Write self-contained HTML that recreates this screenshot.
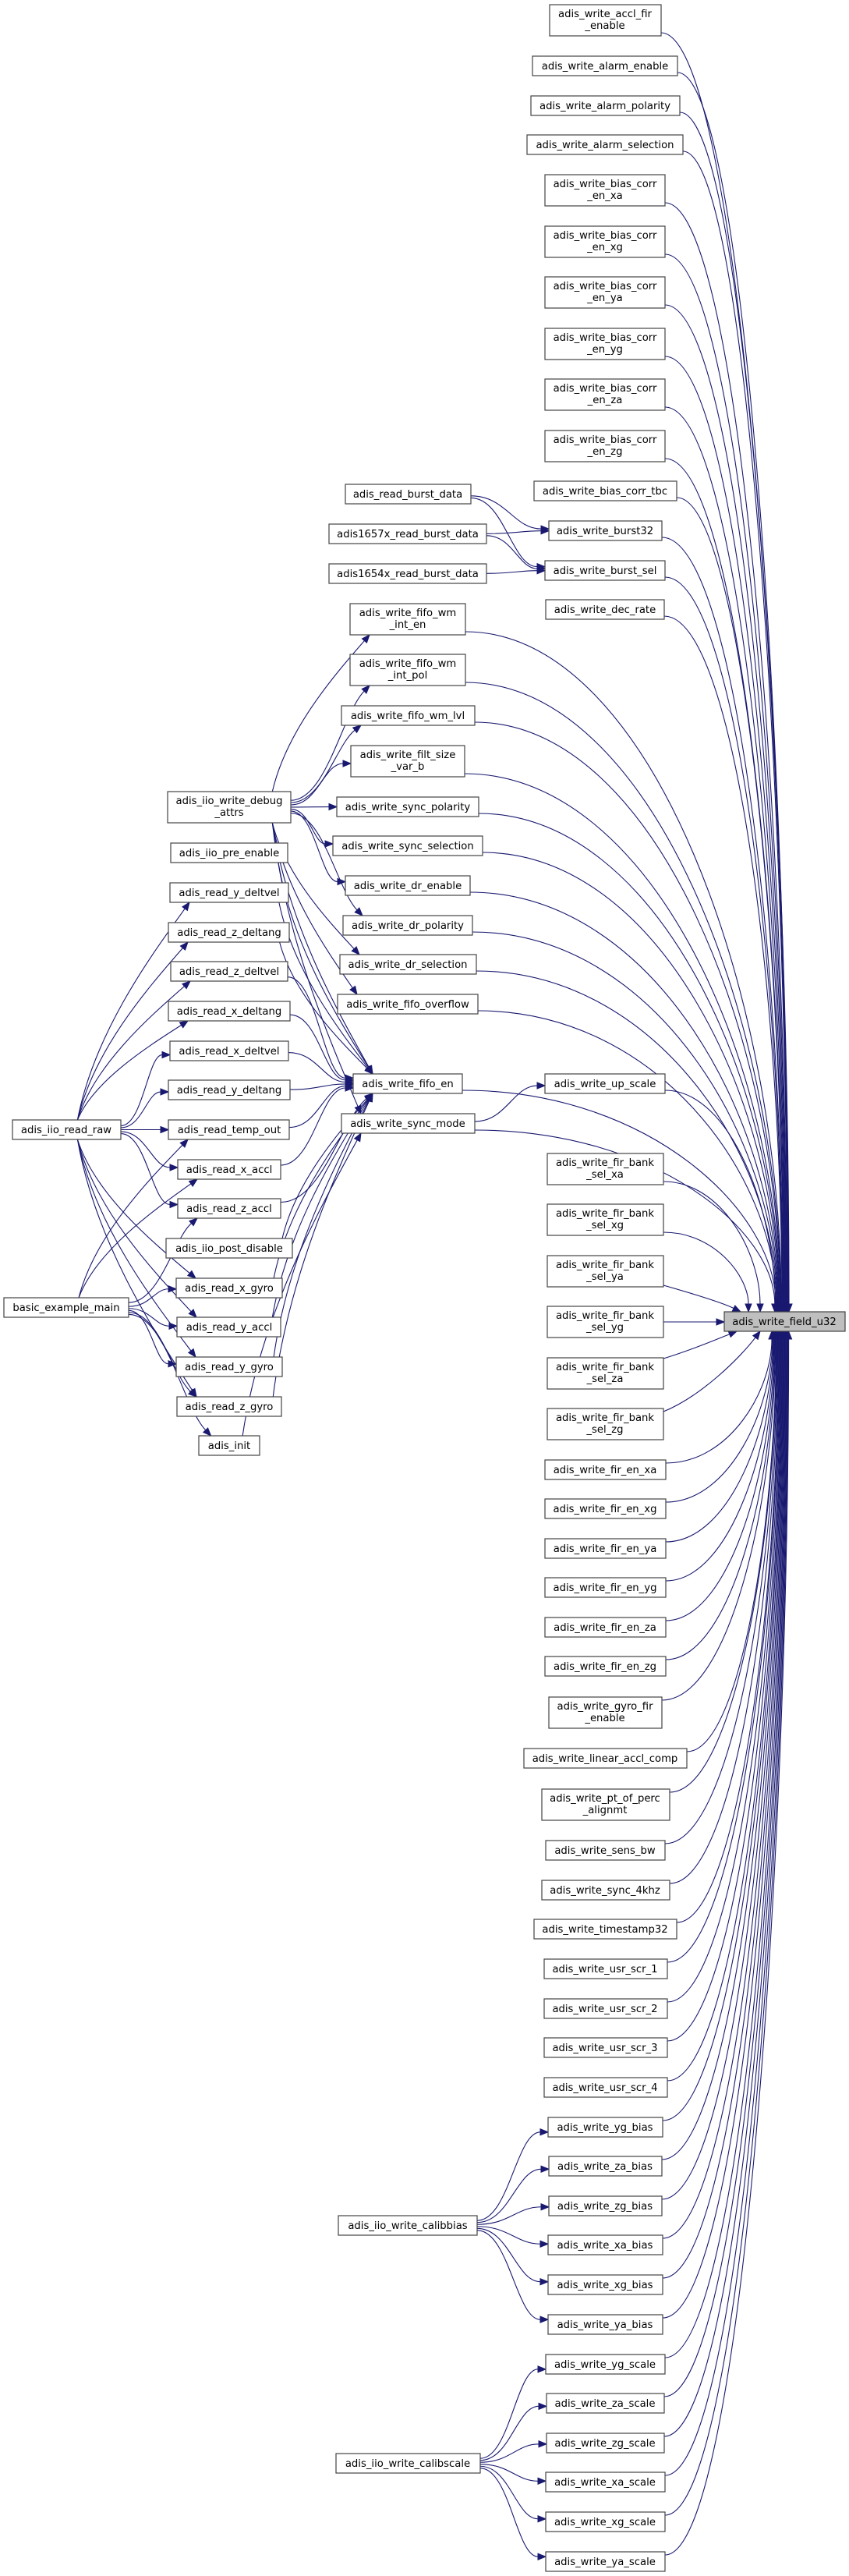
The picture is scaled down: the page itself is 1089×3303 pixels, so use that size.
<!DOCTYPE html>
<html><head><meta charset="utf-8">
<style>
html,body{margin:0;padding:0;background:#fff;}
svg{display:block;}
text{font-family:"DejaVu Sans","Liberation Sans",sans-serif;font-size:13.2px;fill:#000;text-anchor:middle;}
rect{fill:#fff;stroke:#444;stroke-width:1.2;}
#field{fill:#bfbfbf;}
</style></head>
<body>
<svg id="s" width="1089" height="3303" viewBox="0 0 1089 3303" xmlns="http://www.w3.org/2000/svg">
<g id="edges" fill="none" stroke="#191970" stroke-width="1.1"></g>
<g id="arrows" fill="#191970" stroke="#191970" stroke-width="1"></g>
<g id="nodes">
<rect id="accl_fir" x="705" y="6" width="143" height="40"/><text x="776" y="22">adis_write_accl_fir</text><text x="776" y="37">_enable</text>
<rect id="al_en" x="683" y="72" width="186" height="25"/><text x="776" y="89">adis_write_alarm_enable</text>
<rect id="al_pol" x="681" y="123" width="191" height="25"/><text x="776" y="140">adis_write_alarm_polarity</text>
<rect id="al_sel" x="676" y="173" width="200" height="25"/><text x="776" y="190">adis_write_alarm_selection</text>
<rect id="bc_xa" x="699" y="224" width="154" height="40"/><text x="776" y="240">adis_write_bias_corr</text><text x="776" y="255">_en_xa</text>
<rect id="bc_xg" x="699" y="290" width="154" height="40"/><text x="776" y="306">adis_write_bias_corr</text><text x="776" y="321">_en_xg</text>
<rect id="bc_ya" x="699" y="355" width="154" height="40"/><text x="776" y="371">adis_write_bias_corr</text><text x="776" y="386">_en_ya</text>
<rect id="bc_yg" x="699" y="421" width="154" height="40"/><text x="776" y="437">adis_write_bias_corr</text><text x="776" y="452">_en_yg</text>
<rect id="bc_za" x="699" y="486" width="154" height="40"/><text x="776" y="502">adis_write_bias_corr</text><text x="776" y="517">_en_za</text>
<rect id="bc_zg" x="699" y="552" width="154" height="40"/><text x="776" y="568">adis_write_bias_corr</text><text x="776" y="583">_en_zg</text>
<rect id="tbc" x="685" y="617" width="183" height="25"/><text x="776" y="634">adis_write_bias_corr_tbc</text>
<rect id="burst32" x="704" y="668" width="145" height="25"/><text x="776" y="685">adis_write_burst32</text>
<rect id="burst_sel" x="699" y="719" width="154" height="25"/><text x="776" y="736">adis_write_burst_sel</text>
<rect id="dec_rate" x="700" y="769" width="152" height="25"/><text x="776" y="786">adis_write_dec_rate</text>
<rect id="up_scale" x="699" y="1377" width="154" height="25"/><text x="776" y="1394">adis_write_up_scale</text>
<rect id="fb_xa" x="702" y="1479" width="149" height="40"/><text x="776" y="1495">adis_write_fir_bank</text><text x="776" y="1510">_sel_xa</text>
<rect id="fb_xg" x="702" y="1544" width="149" height="40"/><text x="776" y="1560">adis_write_fir_bank</text><text x="776" y="1575">_sel_xg</text>
<rect id="fb_ya" x="702" y="1610" width="149" height="40"/><text x="776" y="1626">adis_write_fir_bank</text><text x="776" y="1641">_sel_ya</text>
<rect id="fb_yg" x="702" y="1675" width="149" height="40"/><text x="776" y="1691">adis_write_fir_bank</text><text x="776" y="1706">_sel_yg</text>
<rect id="fb_za" x="702" y="1741" width="149" height="40"/><text x="776" y="1757">adis_write_fir_bank</text><text x="776" y="1772">_sel_za</text>
<rect id="fb_zg" x="702" y="1806" width="149" height="40"/><text x="776" y="1822">adis_write_fir_bank</text><text x="776" y="1837">_sel_zg</text>
<rect id="fe_xa" x="699" y="1872" width="155" height="25"/><text x="776" y="1889">adis_write_fir_en_xa</text>
<rect id="fe_xg" x="699" y="1922" width="155" height="25"/><text x="776" y="1939">adis_write_fir_en_xg</text>
<rect id="fe_ya" x="699" y="1973" width="155" height="25"/><text x="776" y="1990">adis_write_fir_en_ya</text>
<rect id="fe_yg" x="699" y="2023" width="155" height="25"/><text x="776" y="2040">adis_write_fir_en_yg</text>
<rect id="fe_za" x="699" y="2074" width="155" height="25"/><text x="776" y="2091">adis_write_fir_en_za</text>
<rect id="fe_zg" x="699" y="2124" width="155" height="25"/><text x="776" y="2141">adis_write_fir_en_zg</text>
<rect id="gyro_fir" x="704" y="2176" width="145" height="40"/><text x="776" y="2192">adis_write_gyro_fir</text><text x="776" y="2207">_enable</text>
<rect id="lin" x="672" y="2242" width="209" height="25"/><text x="776" y="2259">adis_write_linear_accl_comp</text>
<rect id="pt" x="695" y="2294" width="164" height="40"/><text x="776" y="2310">adis_write_pt_of_perc</text><text x="776" y="2325">_alignmt</text>
<rect id="sens" x="700" y="2360" width="153" height="25"/><text x="776" y="2377">adis_write_sens_bw</text>
<rect id="s4k" x="695" y="2411" width="164" height="25"/><text x="776" y="2428">adis_write_sync_4khz</text>
<rect id="ts32" x="685" y="2461" width="183" height="25"/><text x="776" y="2478">adis_write_timestamp32</text>
<rect id="u1" x="698" y="2512" width="158" height="25"/><text x="776" y="2529">adis_write_usr_scr_1</text>
<rect id="u2" x="698" y="2563" width="158" height="25"/><text x="776" y="2580">adis_write_usr_scr_2</text>
<rect id="u3" x="698" y="2613" width="158" height="25"/><text x="776" y="2630">adis_write_usr_scr_3</text>
<rect id="u4" x="698" y="2664" width="158" height="25"/><text x="776" y="2681">adis_write_usr_scr_4</text>
<rect id="b_yg" x="703" y="2715" width="147" height="25"/><text x="776" y="2732">adis_write_yg_bias</text>
<rect id="b_za" x="704" y="2765" width="145" height="25"/><text x="776" y="2782">adis_write_za_bias</text>
<rect id="b_zg" x="704" y="2816" width="145" height="25"/><text x="776" y="2833">adis_write_zg_bias</text>
<rect id="b_xa" x="703" y="2866" width="147" height="25"/><text x="776" y="2883">adis_write_xa_bias</text>
<rect id="b_xg" x="703" y="2917" width="147" height="25"/><text x="776" y="2934">adis_write_xg_bias</text>
<rect id="b_ya" x="703" y="2968" width="147" height="25"/><text x="776" y="2985">adis_write_ya_bias</text>
<rect id="s_yg" x="700" y="3019" width="153" height="25"/><text x="776" y="3036">adis_write_yg_scale</text>
<rect id="s_za" x="701" y="3069" width="151" height="25"/><text x="776" y="3086">adis_write_za_scale</text>
<rect id="s_zg" x="701" y="3120" width="151" height="25"/><text x="776" y="3137">adis_write_zg_scale</text>
<rect id="s_xa" x="700" y="3170" width="153" height="25"/><text x="776" y="3187">adis_write_xa_scale</text>
<rect id="s_xg" x="700" y="3221" width="153" height="25"/><text x="776" y="3238">adis_write_xg_scale</text>
<rect id="s_ya" x="700" y="3272" width="153" height="25"/><text x="776" y="3289">adis_write_ya_scale</text>
<rect id="field" x="929" y="1682" width="155" height="25"/><text x="1006" y="1699">adis_write_field_u32</text>
<rect id="rbd" x="443" y="621" width="161" height="25"/><text x="523" y="638">adis_read_burst_data</text>
<rect id="r1657" x="422" y="672" width="202" height="25"/><text x="523" y="689">adis1657x_read_burst_data</text>
<rect id="r1654" x="422" y="723" width="202" height="25"/><text x="523" y="740">adis1654x_read_burst_data</text>
<rect id="wm_en" x="449" y="774" width="148" height="40"/><text x="523" y="790">adis_write_fifo_wm</text><text x="523" y="805">_int_en</text>
<rect id="wm_pol" x="449" y="839" width="148" height="40"/><text x="523" y="855">adis_write_fifo_wm</text><text x="523" y="870">_int_pol</text>
<rect id="wm_lvl" x="438" y="905" width="171" height="25"/><text x="523" y="922">adis_write_fifo_wm_lvl</text>
<rect id="filt" x="450" y="956" width="146" height="40"/><text x="523" y="972">adis_write_filt_size</text><text x="523" y="987">_var_b</text>
<rect id="sync_pol" x="432" y="1022" width="182" height="25"/><text x="523" y="1039">adis_write_sync_polarity</text>
<rect id="sync_sel" x="427" y="1072" width="192" height="25"/><text x="523" y="1089">adis_write_sync_selection</text>
<rect id="dr_en" x="443" y="1123" width="160" height="25"/><text x="523" y="1140">adis_write_dr_enable</text>
<rect id="dr_pol" x="440" y="1174" width="166" height="25"/><text x="523" y="1191">adis_write_dr_polarity</text>
<rect id="dr_sel" x="436" y="1224" width="175" height="25"/><text x="523" y="1241">adis_write_dr_selection</text>
<rect id="fifo_ovf" x="433" y="1275" width="180" height="25"/><text x="523" y="1292">adis_write_fifo_overflow</text>
<rect id="fifo_en" x="453" y="1377" width="140" height="25"/><text x="523" y="1394">adis_write_fifo_en</text>
<rect id="sync_mode" x="438" y="1428" width="171" height="25"/><text x="523" y="1445">adis_write_sync_mode</text>
<rect id="calibbias" x="434" y="2841" width="178" height="25"/><text x="523" y="2858">adis_iio_write_calibbias</text>
<rect id="calibscale" x="431" y="3146" width="185" height="25"/><text x="523" y="3163">adis_iio_write_calibscale</text>
<rect id="debug" x="215" y="1015" width="158" height="40"/><text x="294" y="1031">adis_iio_write_debug</text><text x="294" y="1046">_attrs</text>
<rect id="pre_en" x="219" y="1081" width="150" height="25"/><text x="294" y="1098">adis_iio_pre_enable</text>
<rect id="y_dv" x="218" y="1132" width="152" height="25"/><text x="294" y="1149">adis_read_y_deltvel</text>
<rect id="z_da" x="216" y="1183" width="155" height="25"/><text x="294" y="1200">adis_read_z_deltang</text>
<rect id="z_dv" x="219" y="1233" width="150" height="25"/><text x="294" y="1250">adis_read_z_deltvel</text>
<rect id="x_da" x="216" y="1284" width="156" height="25"/><text x="294" y="1301">adis_read_x_deltang</text>
<rect id="x_dv" x="218" y="1335" width="152" height="25"/><text x="294" y="1352">adis_read_x_deltvel</text>
<rect id="y_da" x="216" y="1385" width="156" height="25"/><text x="294" y="1402">adis_read_y_deltang</text>
<rect id="temp" x="216" y="1436" width="155" height="25"/><text x="294" y="1453">adis_read_temp_out</text>
<rect id="x_ac" x="228" y="1487" width="132" height="25"/><text x="294" y="1504">adis_read_x_accl</text>
<rect id="z_ac" x="228" y="1537" width="132" height="25"/><text x="294" y="1554">adis_read_z_accl</text>
<rect id="post" x="213" y="1588" width="162" height="25"/><text x="294" y="1605">adis_iio_post_disable</text>
<rect id="x_gy" x="226" y="1639" width="136" height="25"/><text x="294" y="1656">adis_read_x_gyro</text>
<rect id="y_ac" x="227" y="1689" width="133" height="25"/><text x="294" y="1706">adis_read_y_accl</text>
<rect id="y_gy" x="226" y="1740" width="136" height="25"/><text x="294" y="1757">adis_read_y_gyro</text>
<rect id="z_gy" x="227" y="1791" width="134" height="25"/><text x="294" y="1808">adis_read_z_gyro</text>
<rect id="init" x="255" y="1841" width="78" height="25"/><text x="294" y="1858">adis_init</text>
<rect id="raw" x="16" y="1436" width="139" height="25"/><text x="85" y="1453">adis_iio_read_raw</text>
<rect id="main" x="5" y="1664" width="160" height="25"/><text x="85" y="1681">basic_example_main</text>
</g>
</svg>
<script>
(function(){
var NS="http://www.w3.org/2000/svg";
var E=document.getElementById("edges"),A=document.getElementById("arrows");
function R(id){var r=document.getElementById(id);return {x:+r.getAttribute("x"),y:+r.getAttribute("y"),w:+r.getAttribute("width"),h:+r.getAttribute("height")};}
function draw(tx,ty,c1x,c1y,c2x,c2y,hx,hy){
  var ux=hx-c2x,uy=hy-c2y,l=Math.sqrt(ux*ux+uy*uy);
  if(l<0.01){ux=hx-tx;uy=hy-ty;l=Math.sqrt(ux*ux+uy*uy)||1;}
  ux/=l;uy/=l;
  var bx=hx-10*ux,by=hy-10*uy;
  var p=document.createElementNS(NS,"path");
  p.setAttribute("d","M"+tx+","+ty+" C"+c1x+","+c1y+" "+c2x+","+c2y+" "+bx+","+by);
  E.appendChild(p);
  var px=-uy,py=ux;
  var g=document.createElementNS(NS,"polygon");
  g.setAttribute("points",hx+","+hy+" "+(bx+4*px)+","+(by+4*py)+" "+(bx-4*px)+","+(by-4*py));
  A.appendChild(g);
}
function edge(a,b,fr){
  a=R(a);b=R(b);
  var acy=a.y+a.h/2,bcy=b.y+b.h/2,dx=b.x-(a.x+a.w),dy=bcy-acy,s=dy>0?1:-1;
  var tx,ty,c1x,c1y,hx,hy,c2x,c2y;
  var right=false,left=false;
  if(Math.abs(dy)<2.2*dx+10){tx=a.x+a.w;ty=acy+Math.max(-a.h/2+3,Math.min(a.h/2-3,dy*0.05));right=true;}
  else{tx=a.x+a.w*(fr||0.72);ty=s>0?a.y+a.h:a.y;}
  if(Math.abs(dy)<1.6*dx+10){hx=b.x;hy=bcy-Math.max(-b.h/2+3,Math.min(b.h/2-3,dy*0.05));left=true;}
  else{hx=b.x+Math.min(25,b.w*0.2);hy=s>0?b.y:b.y+b.h;}
  var ddx=hx-tx;
  if(right){c1x=tx+Math.max(ddx*0.45,15);c1y=ty;}else{c1x=tx+ddx*0.15;c1y=ty+(hy-ty)*0.4;}
  if(left){c2x=hx-Math.max(ddx*0.45,15);c2y=hy;}else{c2x=hx-ddx*0.35;c2y=hy-(hy-ty)*0.25;}
  draw(tx,ty,c1x,c1y,c2x,c2y,hx,hy);
}
function toT(id,hx){
  var a=R(id),acy=a.y+a.h/2;
  var tx=a.x+a.w,ty,hy;
  if(acy<1682){ty=acy+a.h/2-4;hy=1682;}else{ty=acy-a.h/2+4;hy=1707;}
  var c1x=tx+(hx-tx)*0.6,c1y=ty,c2x=hx,c2y=ty+(hy-ty)*0.55;
  draw(tx,ty,c1x,c1y,c2x,c2y,hx,hy);
}
var above=["accl_fir","al_en","al_pol","al_sel","bc_xa","bc_xg","bc_ya","bc_yg","bc_za","bc_zg","tbc","burst32","burst_sel","dec_rate","wm_en","wm_pol","wm_lvl","filt","sync_pol","sync_sel","dr_en","dr_pol","dr_sel","fifo_ovf","fifo_en","up_scale","sync_mode"];
for(var i=0;i<above.length;i++){toT(above[i],1012-i*0.7);}
toT("fb_xa",975);toT("fb_xg",960);
draw(851,1648,900,1662,930,1672,950,1682);
draw(851,1695,880,1695,900,1695,929,1695);
draw(851,1742,890,1730,920,1717,945,1707);
draw(851,1810,900,1790,950,1740,975,1707);
var below=["fe_xa","fe_xg","fe_ya","fe_yg","fe_za","fe_zg","gyro_fir","lin","pt","sens","s4k","ts32","u1","u2","u3","u4","b_yg","b_za","b_zg","b_xa","b_xg","b_ya","s_yg","s_za","s_zg","s_xa","s_xg","s_ya"];
for(var j=0;j<below.length;j++){toT(below[j],990+j*0.8);}
var L=[["rbd","burst32"],["rbd","burst_sel"],["r1657","burst32"],["r1657","burst_sel"],["r1654","burst_sel"],["sync_mode","up_scale"],["init","sync_mode"]];
["wm_en","wm_pol","wm_lvl","filt","sync_pol","sync_sel","dr_en","dr_pol","dr_sel","fifo_ovf","fifo_en","sync_mode"].forEach(function(t){L.push(["debug",t,0.85]);});
["pre_en","y_dv","z_da","z_dv","x_da","x_dv","y_da","temp","x_ac","z_ac","post","x_gy","y_ac","y_gy","z_gy"].forEach(function(t){L.push([t,"fifo_en",0.92]);});
["y_dv","z_da","z_dv","x_da","x_dv","y_da","temp","x_ac","z_ac","x_gy","y_ac","y_gy","z_gy"].forEach(function(t){L.push(["raw",t,0.6]);});
["temp","x_ac","z_ac","x_gy","y_ac","y_gy","z_gy","init"].forEach(function(t){L.push(["main",t,0.6]);});
["b_yg","b_za","b_zg","b_xa","b_xg","b_ya"].forEach(function(t){L.push(["calibbias",t]);});
["s_yg","s_za","s_zg","s_xa","s_xg","s_ya"].forEach(function(t){L.push(["calibscale",t]);});
L.forEach(function(e){edge(e[0],e[1],e[2]);});
})();
</script>
</body></html>
